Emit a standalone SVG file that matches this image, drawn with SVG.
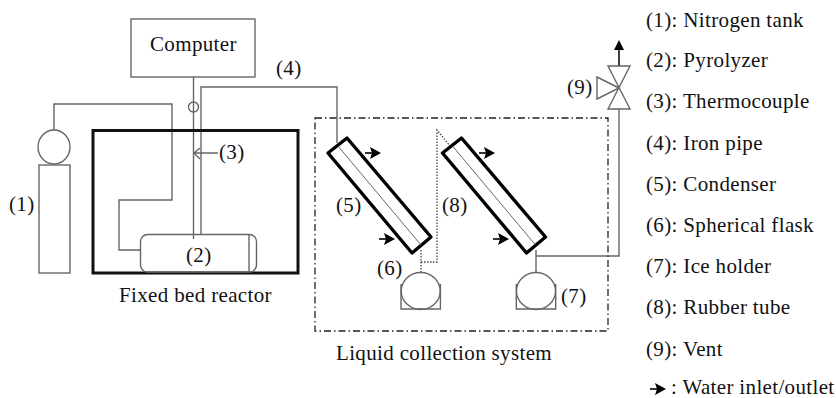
<svg xmlns="http://www.w3.org/2000/svg" width="836" height="398" viewBox="0 0 836 398">
<style>
text{font-family:"Liberation Serif","Times New Roman",serif;font-size:21px;fill:#111;letter-spacing:.35px}
.l{fill:none;stroke:#666;stroke-width:1.4}
.k{fill:none;stroke:#000;stroke-width:3.4;stroke-linejoin:round}
.t{fill:none;stroke:#555;stroke-width:.9}
.d{fill:none;stroke:#444;stroke-width:1.3;stroke-dasharray:1.5 1.5}
.w{stroke:#000;stroke-width:1.6;fill:none}
</style>
<defs>
<g id="water"><path class="w" d="M0 0H8"/><path d="M5 -6L16 0L5 6L7 0Z" fill="#000"/></g>
<g id="flaskShape"><path class="l" d="M-19.700 -7V18H19.700V-7"/><ellipse class="l" cx="0" cy="0" rx="19.500" ry="18.500" fill="#fff"/></g>
<g id="condShape"><path class="k" d="M328 153L347 138L431 237L412 253Z"/><path class="t" d="M338 146L421 245"/></g>
</defs>
<g id="connectors">
<path id="c-nitrogen" class="l" d="M54 130V104H172V200H119V250H140"/>
<path id="c-thermo" class="l" d="M193.500 77V239"/>
<path id="c-pipe" class="l" d="M201 234V87H337V143"/>
<path id="c-leader3" class="l" d="M218 153H194M200 148L194 153L200 159"/>
<path id="c-flask6" class="d" d="M421 250V272M421 262H437V130L450 146"/>
<path id="c-flask7" class="l" d="M536 250V272M536 256H619V109"/>
<path id="c-vent" d="M619 66V48" stroke="#000" stroke-width="1.500" fill="none"/>
<path id="c-venthead" d="M614 50L619 40L624 50Z" fill="#000"/>
</g>
<g id="computer"><rect class="l" x="131" y="19" width="124" height="58" fill="#fff"/><text x="150" y="51">Computer</text></g>
<g id="thermo-node"><circle class="l" cx="193.500" cy="107" r="5" fill="#fff"/><text x="219" y="159">(3)</text></g>
<g id="label4"><text x="276" y="75">(4)</text></g>
<g id="tank"><ellipse class="l" cx="54" cy="147" rx="16" ry="17"/><rect class="l" x="39" y="165" width="31" height="108"/><text x="9" y="211">(1)</text></g>
<g id="furnace"><rect x="93" y="130.500" width="205" height="142.500" fill="none" stroke="#111" stroke-width="3"/><text x="119" y="302">Fixed bed reactor</text></g>
<g id="pyrolyzer"><rect class="l" x="140.500" y="234.500" width="116" height="37.500" rx="7"/><path class="l" d="M249 234.500V272"/><text x="186" y="262">(2)</text></g>
<g id="collection"><rect x="315" y="118" width="293" height="213" fill="none" stroke="#222" stroke-width="1.300" stroke-dasharray="7 3 1.500 3"/><text x="336" y="360">Liquid collection system</text></g>
<g id="condenser5"><use href="#condShape"/><use href="#water" x="365" y="153"/><use href="#water" x="379" y="239"/><text x="336" y="212">(5)</text></g>
<g id="condenser8"><use href="#condShape" x="114.500"/><use href="#water" x="479" y="153"/><use href="#water" x="493" y="239"/><text x="442" y="212">(8)</text></g>
<g id="flask6"><use href="#flaskShape" x="420.700" y="291"/><text x="377" y="275">(6)</text></g>
<g id="flask7"><use href="#flaskShape" x="536" y="291"/><text x="561" y="303">(7)</text></g>
<g id="valve"><path class="l" d="M608 66H630L608 109H630ZM619 88L597 77V99Z"/><text x="567" y="94">(9)</text></g>
<g id="legend">
<text x="646" y="27">(1): Nitrogen tank</text>
<text x="646" y="67">(2): Pyrolyzer</text>
<text x="646" y="108">(3): Thermocouple</text>
<text x="646" y="150">(4): Iron pipe</text>
<text x="646" y="191">(5): Condenser</text>
<text x="646" y="232">(6): Spherical flask</text>
<text x="646" y="273">(7): Ice holder</text>
<text x="646" y="314">(8): Rubber tube</text>
<text x="646" y="356">(9): Vent</text>
<use href="#water" x="650" y="389"/><text x="671" y="394">: Water inlet/outlet</text>
</g>
</svg>
